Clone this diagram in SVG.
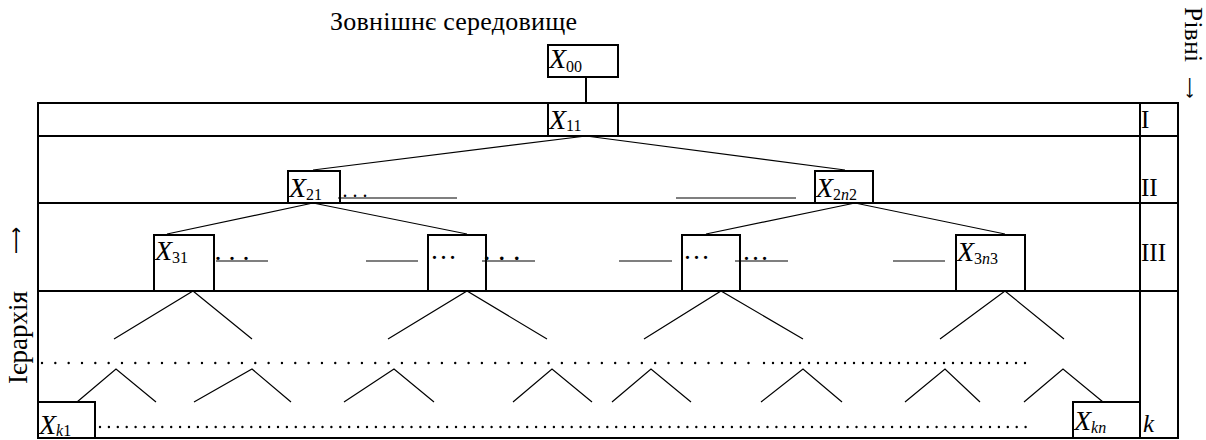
<svg xmlns="http://www.w3.org/2000/svg" width="1206" height="440" viewBox="0 0 1206 440">
<style>
.frame{fill:none;stroke:#000;stroke-width:2}
.box{fill:none;stroke:#000;stroke-width:2}
.ln{stroke:#000;stroke-width:1.2;fill:none}
.ul{stroke:#000;stroke-width:1.2}
.dot{stroke:#000;stroke-width:2.4;stroke-linecap:round;fill:none}
text{font-family:'Liberation Serif',serif;fill:#000}
.lbl{font-size:25px}
.arr{font-family:'DejaVu Sans',sans-serif}
.x{font-size:28px;font-style:italic}
.sub{font-size:16px;font-style:normal}
.si{font-style:italic}
</style>
<rect width="1206" height="440" fill="#fff"/>

<g id="frame">
  <rect class="frame" x="38" y="103" width="1140" height="335"/>
  <line class="frame" x1="1140" y1="103" x2="1140" y2="438"/>
  <line class="frame" x1="38" y1="136" x2="1178" y2="136"/>
  <line class="frame" x1="38" y1="203" x2="1178" y2="203"/>
  <line class="frame" x1="38" y1="291" x2="1178" y2="291"/>
</g>

<g id="labels">
  <text x="330" y="30" font-size="26" textLength="247" lengthAdjust="spacing">Зовнішнє середовище</text>
  <text font-size="27" transform="translate(27,384) rotate(-90)">Ієрархія</text>
  <text class="arr" font-size="19" transform="translate(22,254) rotate(-90)">⟶</text>
  <text class="lbl" transform="translate(1185,7) rotate(90)" textLength="55" lengthAdjust="spacing">Рівні</text>
  <text class="arr" font-size="15" transform="translate(1185,77) rotate(90)">⟶</text>
  <text class="lbl" x="1141" y="128">I</text>
  <text class="lbl" x="1141" y="196">II</text>
  <text class="lbl" x="1141" y="261">III</text>
  <text class="lbl si" x="1143" y="432">k</text>
</g>

<g id="connectors">
  <line class="frame" x1="586" y1="77" x2="586" y2="103"/>
  <polyline class="ln" points="313,170 586,136 845,170"/>
  <polyline class="ln" points="167,234 313,203 467,234"/>
  <polyline class="ln" points="706,234 855,203 1005,234"/>
  <polyline class="ln" points="114,339 193,291 252,339"/>
  <polyline class="ln" points="388,339 467,291 547,339"/>
  <polyline class="ln" points="644,339 721,291 803,339"/>
  <polyline class="ln" points="940,339 1005,291 1064,339"/>
  <polyline class="ln" points="77,402 116,369 156,402"/>
  <polyline class="ln" points="194,402 252,369 291,402"/>
  <polyline class="ln" points="344,402 394,369 434,402"/>
  <polyline class="ln" points="513,402 552,369 592,402"/>
  <polyline class="ln" points="612,402 651,369 691,402"/>
  <polyline class="ln" points="761,402 803,369 842,402"/>
  <polyline class="ln" points="905,402 945,369 980,402"/>
  <polyline class="ln" points="1024,402 1063,369 1103,402"/>
  <line class="ul" x1="338" y1="198" x2="457" y2="198"/>
  <line class="ul" x1="676" y1="198" x2="796" y2="198"/>
  <line class="ul" x1="216" y1="261" x2="268" y2="261"/>
  <line class="ul" x1="366" y1="261" x2="418" y2="261"/>
  <line class="ul" x1="482" y1="261" x2="535" y2="261"/>
  <line class="ul" x1="619" y1="261" x2="672" y2="261"/>
  <line class="ul" x1="735" y1="261" x2="788" y2="261"/>
  <line class="ul" x1="893" y1="261" x2="945" y2="261"/>
  <line class="dot" x1="42" y1="363" x2="750" y2="363" stroke-dasharray="0 13.33"/>
  <line class="dot" x1="764" y1="363" x2="1032" y2="363" stroke-dasharray="0 9"/>
  <line class="dot" x1="100" y1="427" x2="1027" y2="427" stroke-dasharray="0 8.9"/>
  <text x="342.5" y="197" font-size="20">. . .</text>
  <text x="214.5" y="260" font-size="28">. . .</text>
  <text x="430" y="259" font-size="27">…</text>
  <text x="483" y="260" font-size="30">. . .</text>
  <text x="683" y="259" font-size="27">…</text>
  <text x="742" y="260" font-size="27">…</text>
</g>

<g id="X00"><rect class="box" x="548" y="45" width="70" height="32"/><text class="x" x="549" y="68">X<tspan class="sub" y="72">00</tspan></text></g>
<g id="X11"><rect class="box" x="548" y="103" width="70" height="33"/><text class="x" x="549" y="129">X<tspan class="sub" y="131">11</tspan></text></g>
<g id="X21"><rect class="box" x="288" y="171" width="52" height="32"/><text class="x" x="289" y="197">X<tspan class="sub" y="200">21</tspan></text></g>
<g id="X2n2"><rect class="box" x="815" y="171" width="58" height="32"/><text class="x" x="816" y="197">X<tspan class="sub" y="200">2</tspan><tspan class="sub si" y="200">n</tspan><tspan class="sub" y="200">2</tspan></text></g>
<g id="X31"><rect class="box" x="154" y="235" width="60" height="56"/><text class="x" x="155" y="260">X<tspan class="sub" y="263">31</tspan></text></g>
<g id="X3a"><rect class="box" x="428" y="235" width="58" height="56"/></g>
<g id="X3b"><rect class="box" x="682" y="235" width="58" height="56"/></g>
<g id="X3n3"><rect class="box" x="956" y="235" width="69" height="56"/><text class="x" x="957" y="261">X<tspan class="sub" y="264">3</tspan><tspan class="sub si" y="264">n</tspan><tspan class="sub" y="264">3</tspan></text></g>
<g id="Xk1"><rect class="box" x="38" y="402" width="57" height="36"/><text class="x" x="39" y="434">X<tspan class="sub si" y="436">k</tspan><tspan class="sub" y="436">1</tspan></text></g>
<g id="Xkn"><rect class="box" x="1073" y="402" width="67" height="36"/><text class="x" x="1074" y="430">X<tspan class="sub si" y="433">kn</tspan></text></g>
</svg>
